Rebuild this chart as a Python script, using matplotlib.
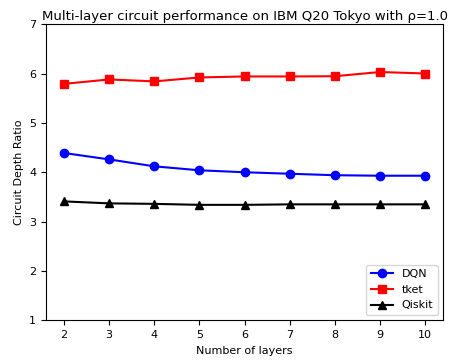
import matplotlib
matplotlib.use("Agg")
import matplotlib.pyplot as plt

layers = [2, 3, 4, 5, 6, 7, 8, 9, 10]
dqn = [4.39, 4.26, 4.12, 4.04, 4.00, 3.97, 3.94, 3.93, 3.93]
tket = [5.79, 5.88, 5.84, 5.92, 5.94, 5.94, 5.945, 6.03, 6.00]
qiskit = [3.41, 3.37, 3.36, 3.34, 3.34, 3.35, 3.35, 3.35, 3.35]

fig = plt.figure(figsize=(4.53, 3.6), dpi=100)
ax = fig.add_axes([0.1015, 0.11, 0.877, 0.823])
ax.plot(layers, dqn, color="blue", marker="o", markersize=6, label="DQN")
ax.plot(layers, tket, color="red", marker="s", markersize=6, label="tket")
ax.plot(layers, qiskit, color="black", marker="^", markersize=6, label="Qiskit")
ax.set_ylim(1, 7)
ax.set_xticks(layers)
ax.tick_params(labelsize=8)
ax.set_xlabel("Number of layers", fontsize=8)
ax.set_ylabel("Circuit Depth Ratio", fontsize=8)
ax.set_title("Multi-layer circuit performance on IBM Q20 Tokyo with ρ=1.0",
             fontsize=9.5, pad=3)
ax.legend(loc="lower right", fontsize=8)
fig.savefig("out.png", dpi=100)
